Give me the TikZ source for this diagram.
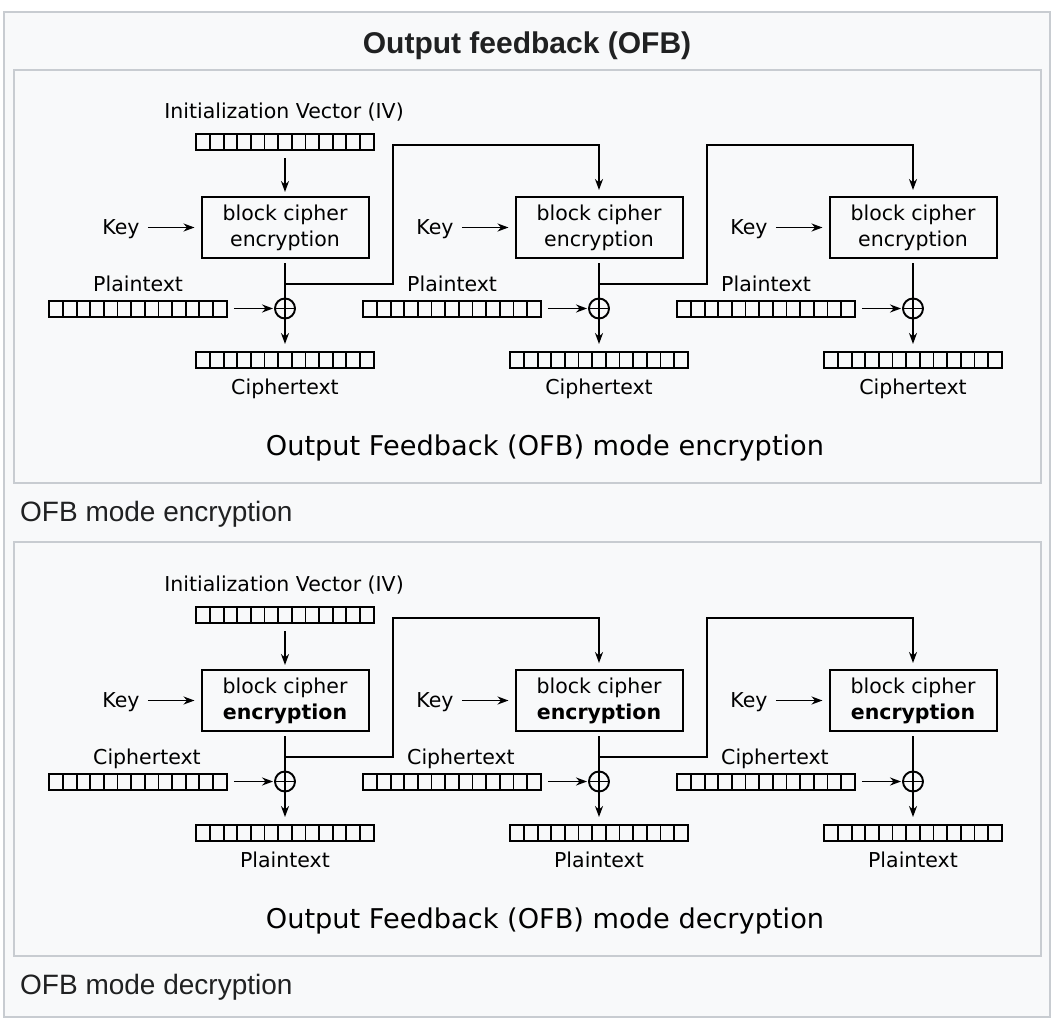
\documentclass[tikz,border=0pt]{standalone}
\usepackage{fontspec}
\setmainfont{DejaVu Sans}
\newfontfamily\wikifont{Liberation Sans}
\usetikzlibrary{arrows.meta,calc}
\definecolor{frameline}{HTML}{C8CCD1}
\definecolor{framebg}{HTML}{F8F9FA}
\definecolor{wikitext}{HTML}{202122}
\tikzset{
  lab/.style={inner sep=0pt, font=\fontsize{20.5}{26}\selectfont, anchor=base},
  cbox/.style={draw, line width=2pt, minimum width=167pt, minimum height=61pt, inner sep=0pt, align=center, font=\fontsize{20.5}{26}\selectfont},
  reg/.style={draw, line width=2pt, minimum width=177.5pt, minimum height=16pt, inner sep=0pt,
    path picture={\foreach \i in {1,...,12}{\draw[line width=1.9pt] ([xshift=\i*13.654pt]path picture bounding box.south west) -- ([xshift=\i*13.654pt]path picture bounding box.north west);}}},
  xorc/.style={draw, circle, line width=1.9pt, minimum size=20pt, inner sep=0pt,
    path picture={\draw[line width=1.9pt] (path picture bounding box.north) -- (path picture bounding box.south) (path picture bounding box.west) -- (path picture bounding box.east);}},
  arr/.style={line width=1.9pt, -{Stealth[length=11pt,width=8pt]}},
  ln/.style={line width=1.9pt},
  panel/.style={draw=frameline, line width=1.5pt, fill=framebg},
  wcap/.style={font=\wikifont\fontsize{28}{34}\selectfont, text=wikitext, anchor=base west, inner sep=0pt},
  pcap/.style={font=\fontsize{27.2}{32}\selectfont, inner sep=0pt, anchor=base},
}
% #1 prefix, #2 cx, #3 left label, #4 bottom label, #5 second line of box
\newcommand\ofbunit[5]{%
  \node[cbox] (#1box) at (#2,227.5) {block cipher\\#5};
  \node[lab] (#1key) at ({#2-164},234) {Key};
  \node[xorc] (#1x) at (#2,308.5) {};
  \node[reg] (#1in) at ({#2-147},308.5) {};
  \node[lab, anchor=base west] (#1inl) at ({#2-192},291) {#3};
  \node[reg] (#1out) at (#2,360) {};
  \node[lab] (#1outl) at (#2,394) {#4};
  \coordinate (#1j) at (#2,284);
  \draw[arr, shorten <=8pt, shorten >=6pt] (#1key.east |- #1box.west) -- (#1box.west);
  \draw[ln, shorten <=4pt] (#1box) -- (#1x);
  \draw[arr, shorten <=6pt, shorten >=1pt] (#1in) -- (#1x);
  \draw[arr, shorten >=7pt] (#1x) -- (#1out);
}
% #1 prefix, #2 left label, #3 bottom label, #4 box second line, #5 mode word
\newcommand\ofbpanel[5]{%
  \node[lab] (#1ivl) at (284,118) {Initialization Vector (IV)};
  \node[reg] (#1iv) at (285,142) {};
  \ofbunit{#1u1}{285}{#2}{#3}{#4}
  \ofbunit{#1u2}{599}{#2}{#3}{#4}
  \ofbunit{#1u3}{913}{#2}{#3}{#4}
  \draw[arr, shorten <=7pt, shorten >=4pt] (#1iv) -- (#1u1box);
  \coordinate (#1t1) at (393,145);
  \coordinate (#1t2) at (707,145);
  \draw[arr, shorten >=6pt] (#1u1j) -| (#1t1) -| (#1u2box.north);
  \draw[arr, shorten >=6pt] (#1u2j) -| (#1t2) -| (#1u3box.north);
  \node[pcap] (#1cap) at (545,455) {Output Feedback (OFB) mode #5};
}
\begin{document}
\begin{tikzpicture}[x=1pt,y=-1pt]
\useasboundingbox (0,0) rectangle (1054,1022);
\fill[white] (0,0) rectangle (1054,1022);
\draw[panel] (4,12) rectangle (1050,1017);
\draw[panel] (14,70) rectangle (1041,483);
\draw[panel] (14,542) rectangle (1041,956);
\node[font=\wikifont\fontsize{30}{36}\selectfont\bfseries, text=wikitext, anchor=base, inner sep=0pt] (title) at (527,53.5) {Output feedback (OFB)};
\ofbpanel{e}{Plaintext}{Ciphertext}{encryption}{encryption}
\node[wcap] (ecaption) at (20,521) {OFB mode encryption};
\begin{scope}[shift={(0,473)}]
\ofbpanel{d}{Ciphertext}{Plaintext}{\textbf{encryption}}{decryption}
\end{scope}
\node[wcap] (dcaption) at (20,994) {OFB mode decryption};
\end{tikzpicture}
\end{document}
